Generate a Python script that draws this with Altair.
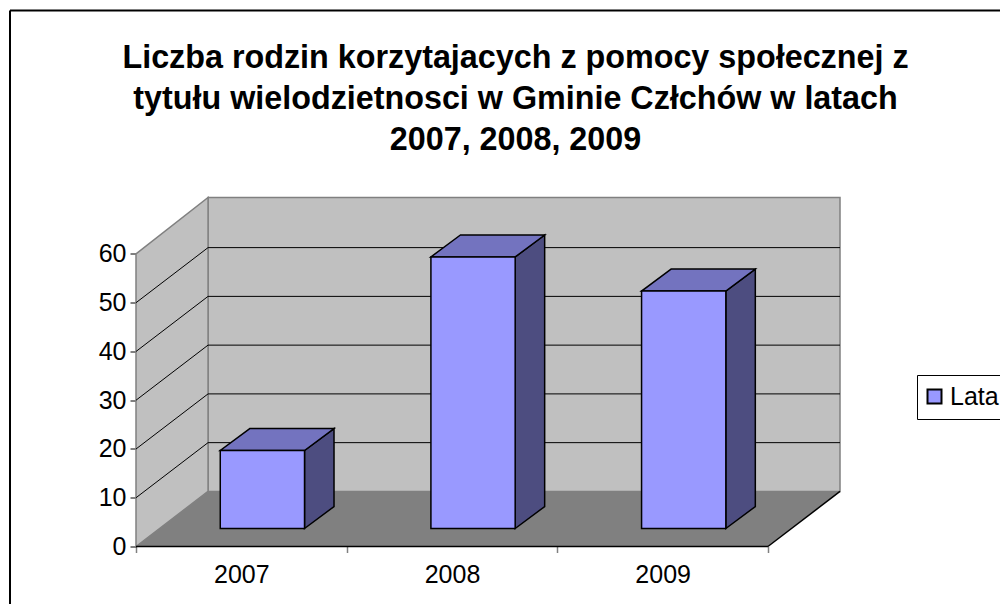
import json
import altair as alt
import pandas as pd

# --- values ---
years = ["2007", "2008", "2009"]
families = [16, 55.7, 48.7]
y_ticks = [0, 10, 20, 30, 40, 50, 60]
series_name = "Lata"
title_lines = [
    "Liczba rodzin korzytajacych z pomocy społecznej z",
    "tytułu wielodzietnosci w Gminie Człchów w latach",
    "2007, 2008, 2009",
]

# --- oblique projection of the 3-D box, in axis units ---
SHEAR_X = 0.342
SHEAR_Y = 11.3
BAR_LEFT = 0.40
BAR_W = 0.40
BAR_BASE = 3.69
BAR_DX = 0.14
BAR_DY = 4.5
N = len(years)
TOP = max(y_ticks)
X_MAX = N + SHEAR_X
Y_MAX = 71.58

FONT = "Liberation Sans"
WALL = "#c0c0c0"
FLOOR = "#808080"
FRONT = "#9999ff"
TOPF = "#7373bf"
SIDE = "#4d4d80"

x_axis = alt.Axis(
    title=None, domain=False, grid=False,
    values=[i / 2 for i in range(2 * N + 1)],
    labelExpr=f"datum.value % 1 == 0 ? '' : {json.dumps(years)}[floor(datum.value)]",
    tickOpacity={"condition": {"test": "datum.value % 1 != 0", "value": 0}, "value": 1},
    tickColor="#808080", tickWidth=1.5, tickSize=6,
    labelFont=FONT, labelFontSize=25, labelColor="black", labelPadding=10,
    labelBaseline="top", labelFlush=False, labelOverlap=False,
)
y_axis = alt.Axis(
    title=None, domain=False, grid=False, values=y_ticks,
    tickColor="black", tickWidth=1, tickSize=6,
    labelFont=FONT, labelFontSize=25, labelColor="black", labelPadding=4,
    labelOverlap=False,
)
x_scale = alt.Scale(domain=[0, X_MAX], nice=False, zero=False)
y_scale = alt.Scale(domain=[0, Y_MAX], nice=False, zero=False)
X = alt.X("x:Q", scale=x_scale, axis=x_axis, stack=None)
Y = alt.Y("y:Q", scale=y_scale, axis=y_axis, stack=None)

# back wall
back = pd.DataFrame([dict(x=SHEAR_X, x2=X_MAX, y=SHEAR_Y, y2=Y_MAX)])
back_l = alt.Chart(back).mark_rect(fill=WALL, stroke=FLOOR, strokeWidth=1.5).encode(
    x=X, x2="x2:Q", y=Y, y2="y2:Q")

# side wall
side_wall = pd.DataFrame([dict(x=0, y=0, y2=TOP), dict(x=SHEAR_X, y=SHEAR_Y, y2=Y_MAX)])
side_l = alt.Chart(side_wall).mark_area(fill=WALL, stroke=FLOOR, strokeWidth=1.5).encode(
    x=X, y=Y, y2="y2:Q")

# grid lines
grid_back = pd.DataFrame([dict(x=SHEAR_X, x2=X_MAX, y=v + SHEAR_Y, y2=v + SHEAR_Y)
                          for v in y_ticks[1:-1]])
grid_side = pd.DataFrame([dict(x=0, x2=SHEAR_X, y=v, y2=v + SHEAR_Y) for v in y_ticks[1:-1]])
grid_b_l = alt.Chart(grid_back).mark_rule(color="black", strokeWidth=1).encode(
    x=X, x2="x2:Q", y=Y, y2="y2:Q")
grid_s_l = alt.Chart(grid_side).mark_rule(color="black", strokeWidth=1).encode(
    x=X, x2="x2:Q", y=Y, y2="y2:Q")

# floor
floor = pd.DataFrame([dict(y=0, x=0, x2=N), dict(y=SHEAR_Y, x=SHEAR_X, x2=X_MAX)])
floor_l = alt.Chart(floor).mark_area(orient="horizontal", fill=FLOOR).encode(
    y=Y, x=X, x2="x2:Q")

# floor's front and right edges
edges = pd.DataFrame([dict(x=0, x2=N, y=0, y2=0), dict(x=N, x2=X_MAX, y=0, y2=SHEAR_Y)])
edges_l = alt.Chart(edges).mark_rule(color="black", strokeWidth=1.5).encode(
    x=X, x2="x2:Q", y=Y, y2="y2:Q")

# bars
front_rows, top_rows, side_rows = [], [], []
for i, (yr, v) in enumerate(zip(years, families)):
    l = i + BAR_LEFT
    r = l + BAR_W
    b = BAR_BASE
    t = BAR_BASE + v
    front_rows.append(dict(year=yr, series=series_name, x=l, x2=r, y=b, y2=t))
    top_rows += [dict(year=yr, y=t, x=l, x2=r),
                 dict(year=yr, y=t + BAR_DY, x=l + BAR_DX, x2=r + BAR_DX)]
    side_rows += [dict(year=yr, x=r, y=b, y2=t),
                  dict(year=yr, x=r + BAR_DX, y=b + BAR_DY, y2=t + BAR_DY)]

BAR_STROKE = dict(stroke="black", strokeWidth=1.5)
top_l = alt.Chart(pd.DataFrame(top_rows)).mark_area(orient="horizontal", fill=TOPF, **BAR_STROKE).encode(
    y=Y, x=X, x2="x2:Q", detail="year:N")
sd_l = alt.Chart(pd.DataFrame(side_rows)).mark_area(fill=SIDE, **BAR_STROKE).encode(
    x=X, y=Y, y2="y2:Q", detail="year:N")
front_l = alt.Chart(pd.DataFrame(front_rows)).mark_rect(**BAR_STROKE).encode(
    x=X, x2="x2:Q", y=Y, y2="y2:Q",
    color=alt.Color("series:N", scale=alt.Scale(domain=[series_name], range=[FRONT]),
                    legend=alt.Legend(
                        title=None, orient="none", legendX=781, legendY=177.5,
                        symbolType="square", symbolSize=196, symbolOffset=-4,
                        symbolStrokeColor="black", symbolStrokeWidth=2,
                        labelFont=FONT, labelFontSize=25, labelColor="black",
                        strokeColor="black", fillColor="white", padding=9,
                        labelOffset=3)),
)

# chart-area frame: only its top and left edges fall inside the page
frame_top = alt.Chart(pd.DataFrame({"a": [0]})).mark_rule(color="black", strokeWidth=2).encode(
    x=alt.value(-126), x2=alt.value(880), y=alt.value(-187))
frame_left = alt.Chart(pd.DataFrame({"a": [0]})).mark_rule(color="black", strokeWidth=2).encode(
    x=alt.value(-126), y=alt.value(-187), y2=alt.value(430))

chart = alt.layer(
    back_l, side_l, grid_b_l, grid_s_l, floor_l, edges_l,
    sd_l, top_l, front_l, frame_top, frame_left,
).properties(
    width=704, height=349,
    autosize=alt.AutoSizeParams(type="none"),
    padding={"left": 128, "top": 189.5, "right": 160, "bottom": 57},
    title=alt.TitleParams(
        text=title_lines, font=FONT, fontSize=32.3, fontWeight="bold", color="black",
        lineHeight=41, anchor="middle", dx=27.5, offset=-147,
    ),
).configure_view(stroke=None)

chart.save("out.html", embed_options={"renderer": "svg", "actions": False})
